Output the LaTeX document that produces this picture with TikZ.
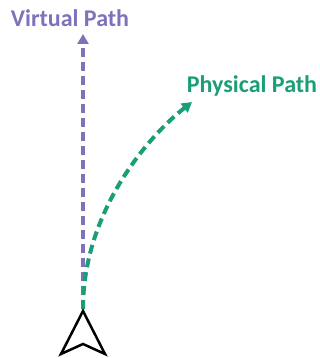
\documentclass[tikz,border=0pt]{standalone}
\usepackage{fontspec}
\setmainfont{Carlito}
\usetikzlibrary{arrows.meta}
\definecolor{virtualc}{RGB}{128,114,186}
\definecolor{physicalc}{RGB}{26,158,119}
\tikzset{
  pathlabel/.style={inner sep=0pt,outer sep=0pt,anchor=base,font=\bfseries\fontsize{24}{28}\selectfont},
  pathline/.style={line width=4pt,dash pattern=on 9pt off 5pt,-{Triangle[length=10pt,width=11pt]}}
}
\begin{document}
\begin{tikzpicture}[x=1pt,y=-1pt]
\path[use as bounding box] (0,0) rectangle (320,358);
\path[fill=white,draw=none] (0,0) rectangle (320,358);
% labels
\node[pathlabel,text=virtualc] (vlabel) at (70,27) {Virtual Path};
\node[pathlabel,text=physicalc] (plabel) at (252,93) {Physical Path};
% path ends
\coordinate (start) at (83,309);
\coordinate (vend) at (83,34);
\coordinate (pend) at (192,102);
% paths
\draw[pathline,draw=virtualc] (start) -- (vend);
\draw[pathline,draw=physicalc] (start) .. controls (83,210) and (150,135) .. (pend);
% cursor
\draw[black,line width=2.5pt,line join=miter] (83,311) coordinate (tip) -- (105,354) -- (83,344) -- (61,354) -- cycle;
\end{tikzpicture}
\end{document}
